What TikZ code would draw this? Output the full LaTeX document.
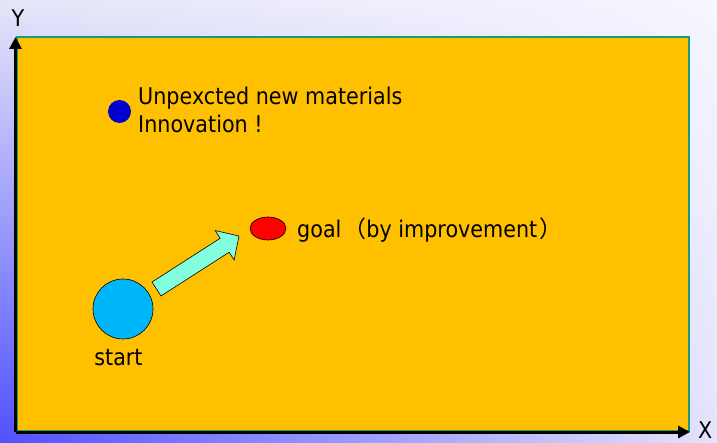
\documentclass[tikz,border=0pt]{standalone}
\usepackage{fontspec}
\setmainfont{DejaVu Sans}[FakeStretch=0.9]
\newfontfamily\cjkfont{Noto Sans CJK JP}
\usetikzlibrary{arrows.meta,shapes.geometric,shadings,positioning}
\definecolor{gold}{RGB}{255,192,0}
\definecolor{rim}{RGB}{24,156,118}
\definecolor{sky}{RGB}{0,182,250}
\definecolor{aqua}{RGB}{130,255,222}
\definecolor{deepblue}{RGB}{0,0,204}
\definecolor{bgul}{RGB}{230,230,249}
\definecolor{bgur}{RGB}{246,246,255}
\definecolor{bgll}{RGB}{80,80,255}
\definecolor{bglr}{RGB}{228,228,251}
\tikzset{
  axis/.style={line width=3pt, -{Triangle[length=12pt,width=12pt]}},
  lbl/.style={font=\fontsize{23}{28}\selectfont, inner sep=0pt},
  blob/.style={draw, line width=0.6pt, inner sep=0pt}
}
\begin{document}
\begin{tikzpicture}[x=1pt,y=-1pt]
            \useasboundingbox (0,0) rectangle (717,443);
            \shade[upper left=bgul, upper right=bgur, lower left=bgll, lower right=bglr]
                (0,0) rectangle (717,443);
            % the field
            \draw[fill=gold, draw=rim, line width=2pt] (17,37.5) rectangle (689,431);
            % axes
            \coordinate (O) at (15.5,432);
            \coordinate (Ytip) at (15.5,37);
            \coordinate (Xtip) at (690,432);
            \draw[axis] (O) -- (Ytip);
            \draw[axis] (O) -- (Xtip);
            \node[lbl] (ylabel) at (18,18.5) {Y};
            \node[lbl, anchor=west] (xlabel) at (698,430) {X};
            % points
            \node[blob, circle, fill=sky, minimum size=60pt] (start) at (123,309) {};
            \node[blob, ellipse, fill=red, minimum width=36pt, minimum height=23pt] (goal) at (268,228.5) {};
            \node[circle, fill=deepblue, minimum size=23pt, inner sep=0pt] (new) at (119.5,111.5) {};
            \node[lbl, anchor=base] (startlabel) at (118.5,365) {start};
            \node[lbl, anchor=base west] (goallabel) at (297,238)
                {goal\hspace{2pt}{\cjkfont （}by improvement\hspace{2pt}{\cjkfont ）}};
            \node[lbl, anchor=base west] (newlabel) at (138,105) {Unpexcted new materials};
            \node[lbl, anchor=base west] (innovlabel) at (138,133) {Innovation !};
            % block arrow
            \begin{scope}[shift={(156.5,289)}, rotate=32.7]
                \draw[fill=aqua, line width=0.6pt] (0pt,-8.3pt) -- (81pt,-8.3pt) -- (81pt,-17.5pt)
                    -- (98pt,0pt) -- (81pt,17.5pt) -- (81pt,8.3pt) -- (0pt,8.3pt) -- cycle;
            \end{scope}
        \end{tikzpicture}
\end{document}
